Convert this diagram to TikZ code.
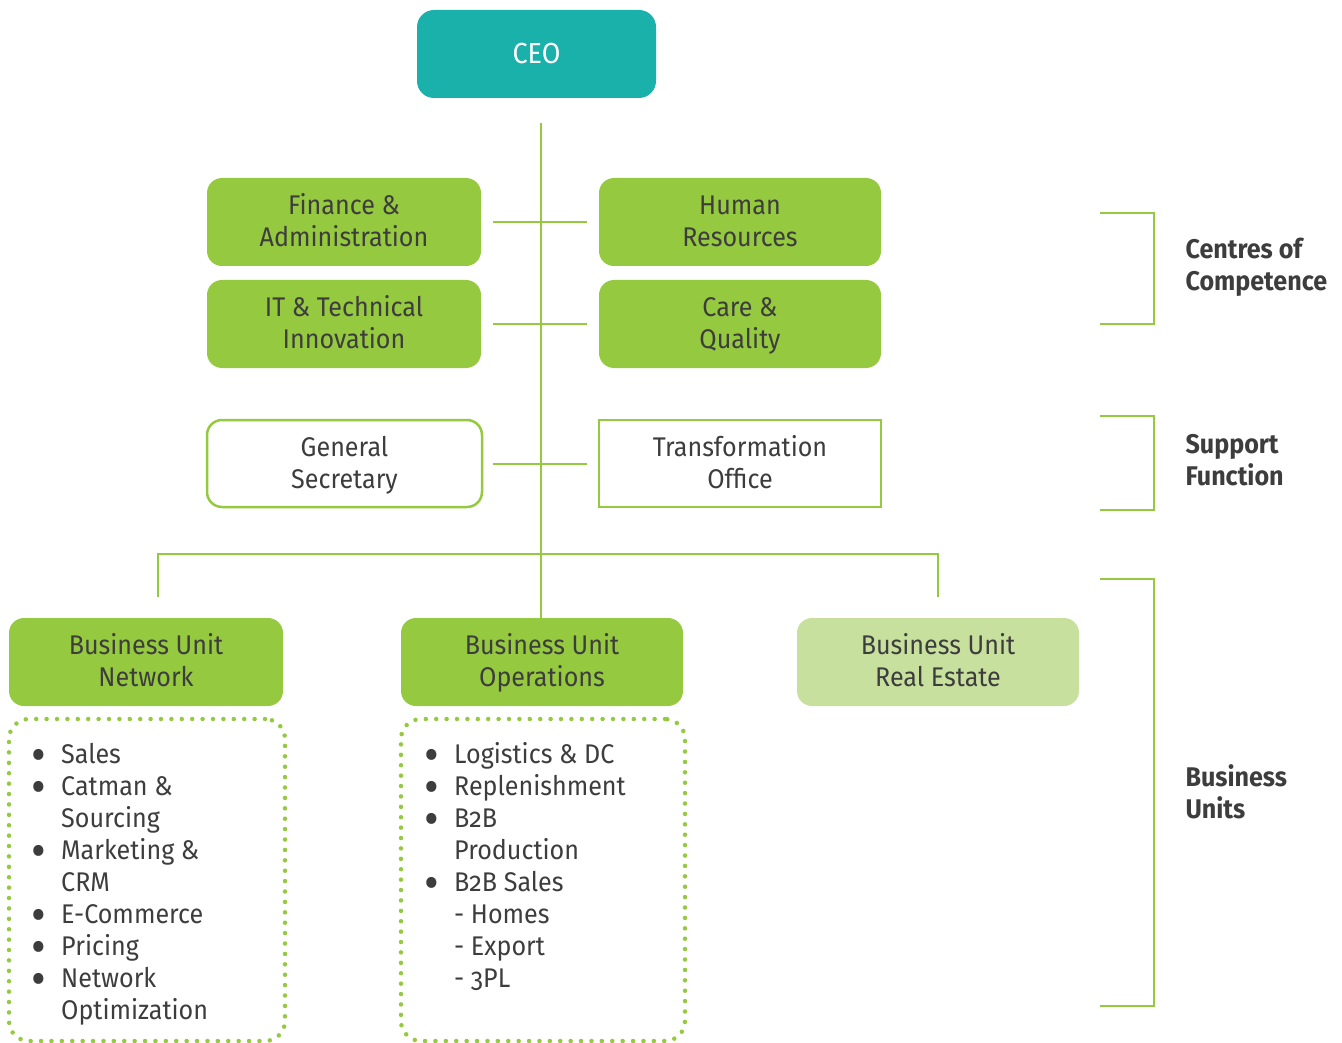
\documentclass[tikz,border=0pt]{standalone}
\usepackage{fontspec}
\setmainfont{Fira Sans}[Numbers=OldStyle, FakeStretch=0.93]
\usetikzlibrary{positioning}

\definecolor{ceoteal}{HTML}{1AB1AB}
\definecolor{leaf}{HTML}{95C93F}
\definecolor{paleleaf}{HTML}{C8E09E}
\definecolor{ink}{HTML}{3D3D3D}

\newcommand{\itm}{\makebox[30pt][l]{\smash{\raisebox{-8pt}{\scalebox{1.8}{\textbullet}}}}}

\begin{document}
\begin{tikzpicture}
[
x=1pt, y=-1pt,
every node/.style={font=\fontsize{27}{32}\selectfont, text=ink, align=center},
ceo/.style={rectangle, rounded corners=17pt, fill=ceoteal, text=white, minimum width=239pt, minimum height=88pt, font=\fontsize{29}{32}\selectfont},
unit/.style={rectangle, rounded corners=15pt, fill=leaf, minimum width=274pt, minimum height=88pt,
  text height=54.4pt, text depth=5.4pt},
unitwide/.style={unit, minimum width=282pt},
office/.style={rectangle, rounded corners=15pt, draw=leaf, line width=2.5pt, fill=white, minimum width=275pt, minimum height=87pt,
  text height=54.4pt, text depth=5.4pt},
listbox/.style={rectangle, rounded corners=20pt, draw=leaf, line width=4.5pt, line cap=round, dash pattern=on 0pt off 10.4pt, minimum height=322pt},
listtext/.style={anchor=north west, inner sep=0pt, align=left},
tag/.style={anchor=west, align=left, font=\fontsize{27}{32}\selectfont\bfseries},
link/.style={draw=leaf, line width=2pt}
]
\useasboundingbox (0,0) rectangle (1342,1043);

%Nodes
\node[ceo]       (ceo)   at (536.5,54)  {CEO};
\node[unit]      (fin)   at (344,222)   {Finance \&\\Administration};
\node[unitwide]  (hr)    at (740,222)   {Human\\Resources};
\node[unit]      (it)    at (344,324)   {IT \& Technical\\Innovation};
\node[unitwide]  (care)  at (740,324)   {Care \&\\Quality};
\node[office]    (gen)   at (344.5,463.5) {General\\Secretary};
\node[office, rounded corners=0pt, minimum width=282pt] (trans) at (740,463.5) {Transformation\\Office};
\node[unit]      (net)   at (146,662)   {Business Unit\\Network};
\node[unitwide]  (ops)   at (542,662)   {Business Unit\\Operations};
\node[unitwide, fill=paleleaf] (re) at (938,662) {Business Unit\\Real Estate};

\node[listbox, minimum width=276pt] (netbox) at (147,880) {};
\node[listbox, minimum width=284pt] (opsbox) at (543,880) {};
\node[listtext] (netlist) at (31,741) {%
\begin{tabular}{@{}l@{}l@{}}
\itm & Sales\\
\itm & Catman \&\\
     & Sourcing\\
\itm & Marketing \&\\
     & CRM\\
\itm & E-Commerce\\
\itm & Pricing\\
\itm & Network\\
     & Optimization
\end{tabular}};
\node[listtext] (opslist) at (424,741) {%
\begin{tabular}{@{}l@{}l@{}}
\itm & Logistics \& DC\\
\itm & Replenishment\\
\itm & B2B\\
     & Production\\
\itm & B2B Sales\\
     & - Homes\\
     & - Export\\
     & - 3PL
\end{tabular}};

\node[tag] (coc) at (1182,267) {Centres of\\Competence};
\node[tag] (sup) at (1182,460) {Support\\Function};
\node[tag] (bus) at (1182,792) {Business\\Units};

\coordinate (top)  at (541,123);
\coordinate (hub)  at (541,554);
\coordinate (cocA) at (1100,213);
\coordinate (cocB) at (1100,324);
\coordinate (supA) at (1100,416);
\coordinate (supB) at (1100,510);
\coordinate (busA) at (1100,579);
\coordinate (busB) at (1100,1006);

%Lines
\draw[link] (top) -- (top |- ops.north);
\draw[link, shorten <=12pt, shorten >=12pt] (fin.east) -- (hr.west);
\draw[link, shorten <=12pt, shorten >=12pt] (it.east) -- (care.west);
\draw[link, shorten <=10pt, shorten >=11pt] (gen.east) -- (trans.west);
\draw[link, shorten <=21pt, shorten >=21pt] ([xshift=12pt]net.north) |- (hub) -| (re.north);

%Brackets
\draw[link] (cocA) -- ++(54,0) |- (cocB);
\draw[link] (supA) -- ++(54,0) |- (supB);
\draw[link] (busA) -- ++(54,0) |- (busB);
\end{tikzpicture}
\end{document}
